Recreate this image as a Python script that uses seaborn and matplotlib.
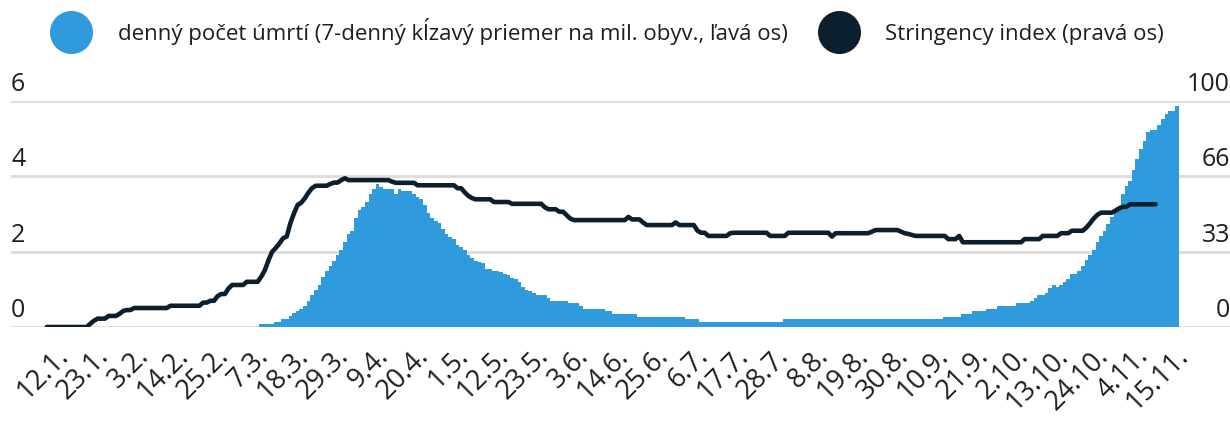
import pandas as pd
import matplotlib
matplotlib.use("Agg")
import matplotlib.pyplot as plt
import seaborn as sns
from matplotlib.lines import Line2D
from matplotlib.transforms import ScaledTranslation

# ---------------------------
# Data, one value per day from 9.1.2020
# ---------------------------
start_date = "2020-01-09"
deaths_start_date = "2020-03-08"

# daily deaths, 7-day rolling mean per million (left axis), from 8.3.
deaths = [
    0.07, 0.07, 0.07, 0.07, 0.14, 0.14, 0.22, 0.22,
    0.28, 0.36, 0.43, 0.47, 0.57, 0.69, 0.85, 0.98, 1.11, 1.33,
    1.49, 1.62, 1.75, 1.91, 2.04, 2.26, 2.46, 2.55, 2.89, 3.11,
    3.18, 3.31, 3.53, 3.66, 3.80, 3.73, 3.66, 3.66, 3.66, 3.52,
    3.66, 3.60, 3.60, 3.60, 3.52, 3.46, 3.39, 3.24, 3.02, 2.89,
    2.81, 2.77, 2.60, 2.47, 2.38, 2.33, 2.18, 2.12, 2.04, 1.91,
    1.82, 1.75, 1.73, 1.71, 1.55, 1.53, 1.49, 1.49, 1.45, 1.41,
    1.38, 1.30, 1.27, 1.19, 1.07, 0.98, 0.96, 0.91, 0.85, 0.85,
    0.85, 0.77, 0.69, 0.69, 0.69, 0.69, 0.69, 0.64, 0.64, 0.64,
    0.57, 0.48, 0.48, 0.48, 0.48, 0.48, 0.48, 0.42, 0.42, 0.35,
    0.35, 0.35, 0.35, 0.35, 0.35, 0.35, 0.27, 0.27, 0.27, 0.27,
    0.27, 0.27, 0.27, 0.27, 0.27, 0.27, 0.27, 0.27, 0.27, 0.21,
    0.21, 0.21, 0.21, 0.13, 0.13, 0.13, 0.13, 0.13, 0.13, 0.13,
    0.13, 0.13, 0.13, 0.13, 0.13, 0.13, 0.13, 0.13, 0.13, 0.13,
    0.13, 0.13, 0.13, 0.13, 0.13, 0.13, 0.21, 0.21, 0.21, 0.21,
    0.21, 0.21, 0.21, 0.21, 0.21, 0.21, 0.21, 0.21, 0.21, 0.21,
    0.21, 0.21, 0.21, 0.21, 0.21, 0.21, 0.21, 0.21, 0.21, 0.21,
    0.21, 0.21, 0.21, 0.21, 0.21, 0.21, 0.21, 0.21, 0.21, 0.21,
    0.21, 0.21, 0.21, 0.21, 0.21, 0.21, 0.21, 0.21, 0.21, 0.21,
    0.27, 0.27, 0.27, 0.27, 0.27, 0.35, 0.35, 0.35, 0.43, 0.43,
    0.43, 0.43, 0.48, 0.48, 0.48, 0.56, 0.56, 0.56, 0.56, 0.56,
    0.65, 0.65, 0.65, 0.65, 0.70, 0.76, 0.85, 0.85, 0.91, 1.04,
    1.11, 1.05, 1.11, 1.20, 1.28, 1.40, 1.40, 1.49, 1.63, 1.78,
    1.91, 2.04, 2.26, 2.42, 2.56, 2.73, 2.91, 3.11, 3.19, 3.53,
    3.74, 3.88, 4.17, 4.46, 4.72, 4.94, 5.17, 5.23, 5.23, 5.36,
    5.52, 5.65, 5.73, 5.73, 5.87,
]

# stringency index (right axis), from 9.1.
stringency = [
    0, 0, 0, 0, 0, 0, 0, 0, 0, 0, 0, 0,
    1.5, 2.8, 3.7, 3.7, 3.7, 4.9, 4.9, 4.9, 5.8, 7.1, 7.5, 7.5,
    8.4, 8.4, 8.4, 8.4, 8.4, 8.4, 8.4, 8.4, 8.4, 8.4,
    9.4, 9.4, 9.4, 9.4, 9.4, 9.4, 9.4, 9.4, 9.4,
    10.8, 10.8, 11.6, 11.6, 13.7, 14.6, 14.6, 17.1, 18.6, 18.6, 18.6, 18.6,
    20.0, 20.0, 20.0, 20.0,
    22.3, 25.2, 29.6, 33.3, 35.0, 37.0, 39.3, 40.0, 45.9, 50.3,
    54.0, 55.0, 57.0, 59.5, 61.5, 62.5, 62.5, 62.5, 62.5, 63.3,
    63.9, 63.9, 65.0, 65.8, 65.0,
    65.0, 65.0, 65.0, 65.0, 65.0, 65.0, 65.0, 65.0, 65.0, 65.0, 65.0,
    64.3, 63.8, 63.8, 63.8, 63.8, 63.8, 63.8,
    62.7, 62.7, 62.7, 62.7, 62.7, 62.7, 62.7, 62.7, 62.7, 62.7, 62.7,
    61.4, 61.4, 59.5, 58.0, 57.0,
    56.5, 56.5, 56.5, 56.5, 56.5, 55.3, 55.3, 55.3, 55.3, 55.3,
    54.5, 54.5, 54.5, 54.5, 54.5, 54.5, 54.5, 54.5, 54.5,
    53.0, 52.1, 52.1, 52.1, 51.0, 51.0, 49.5, 48.0,
    47.3, 47.3, 47.3, 47.3, 47.3, 47.3, 47.3, 47.3, 47.3, 47.3,
    47.3, 47.3, 47.3, 47.3, 47.3,
    48.7, 47.6, 47.6, 47.6, 46.3,
    45.1, 45.1, 45.1, 45.1, 45.1, 45.1, 45.1, 45.1, 46.3,
    45.1, 45.1, 45.1, 45.1, 45.1,
    42.6, 41.7, 41.7, 40.3, 40.3, 40.3, 40.3, 40.3, 40.3, 41.5,
    41.7, 41.7, 41.7, 41.7, 41.7, 41.7, 41.7, 41.7, 41.7, 41.7,
    40.3, 40.3, 40.3, 40.3, 40.3,
    41.7, 41.7, 41.7, 41.7, 41.7, 41.7, 41.7, 41.7, 41.7, 41.7, 41.7, 41.7,
    40.0,
    41.5, 41.5, 41.5, 41.5, 41.5, 41.5, 41.5, 41.5, 41.5, 41.5,
    42.2, 42.9, 42.9, 42.9, 42.9, 42.9, 42.9, 42.9,
    42.2, 41.5, 41.2, 40.7,
    40.3, 40.3, 40.3, 40.3, 40.3, 40.3, 40.3, 40.3, 40.3,
    38.9, 38.9, 38.9, 40.3,
    37.5, 37.5, 37.5, 37.5, 37.5, 37.5, 37.5, 37.5, 37.5, 37.5,
    37.5, 37.5, 37.5, 37.5, 37.5, 37.5, 37.5,
    38.9, 38.9, 38.9, 38.9, 38.9, 40.3, 40.3, 40.3, 40.3, 40.3,
    41.5, 41.5, 41.5, 42.6, 42.6, 42.6, 42.6,
    44.0, 45.9, 48.0, 49.6, 50.6, 50.6, 50.6, 50.6, 51.5, 52.5,
    53.2, 53.2, 54.3, 54.3, 54.3, 54.3, 54.3, 54.3, 54.3, 54.3,
]

tick_labels = [
    "12.1.", "23.1.", "3.2.", "14.2.", "25.2.", "7.3.", "18.3.", "29.3.",
    "9.4.", "20.4.", "1.5.", "12.5.", "23.5.", "3.6.", "14.6.", "25.6.",
    "6.7.", "17.7.", "28.7.", "8.8.", "19.8.", "30.8.", "10.9.", "21.9.",
    "2.10.", "13.10.", "24.10.", "4.11.", "15.11.",
]

legend_labels = [
    "denný počet úmrtí (7-denný kĺzavý priemer na mil. obyv., ľavá os)",
    "Stringency index (pravá os)",
]

blue = "#2f9adc"
navy = "#0c1f2e"
grid_col = "#dedede"
text_col = "#1e1e1e"

# ---------------------------
# Frames
# ---------------------------
t0 = pd.Timestamp(start_date)
offset = (pd.Timestamp(deaths_start_date) - t0).days
df_d = pd.DataFrame({"day": range(offset, offset + len(deaths)), "deaths": deaths})
df_s = pd.DataFrame({"day": range(len(stringency)), "stringency": stringency})

n_days = offset + len(deaths)
all_dates = pd.date_range(start_date, periods=n_days)
day_labels = [f"{d.day}.{d.month}." for d in all_dates]
tick_pos = [day_labels.index(t) for t in tick_labels]

# ---------------------------
# Plot
# ---------------------------
sns.set_theme(style="white")
plt.rcParams["font.family"] = ["Open Sans", "DejaVu Sans"]

fig = plt.figure(figsize=(12.3, 4.21), dpi=100)
ax = fig.add_axes([11 / 1230, 94 / 421, 1219 / 1230, 226 / 421])

sns.barplot(data=df_d, x="day", y="deaths", native_scale=True, width=1.0,
            color=blue, saturation=1, linewidth=0, errorbar=None, ax=ax)

ax.set_xlim(-9.85, 325.5)
ax.set_ylim(0, 6)
ax.set_yticks([0, 2, 4, 6])
ax.yaxis.grid(True, color=grid_col, linewidth=2.2)
ax.xaxis.grid(False)
ax.set_axisbelow(True)
ax.set_xlabel("")
ax.set_ylabel("")
for s in ax.spines.values():
    s.set_visible(False)

# y labels sit on top of their gridlines
lift = ScaledTranslation(0, 4 / 100, fig.dpi_scale_trans)
ax.tick_params(axis="y", length=0, pad=0, labelsize=18, labelcolor=text_col)
for lab in ax.get_yticklabels():
    lab.set_ha("left")
    lab.set_va("bottom")
    lab.set_transform(lab.get_transform() + lift)

ax.set_xticks(tick_pos)
ax.set_xticklabels(tick_labels)
ax.tick_params(axis="x", length=0, pad=18, labelsize=19.5, labelcolor=text_col)
shift = ScaledTranslation(7 / 100, 0, fig.dpi_scale_trans)
for lab in ax.get_xticklabels():
    lab.set_rotation(45)
    lab.set_ha("right")
    lab.set_va("center")
    lab.set_rotation_mode("anchor")
    lab.set_transform(lab.get_transform() + shift)

ax2 = ax.twinx()
sns.lineplot(data=df_s, x="day", y="stringency", color=navy, linewidth=3.3,
             ax=ax2)
ax2.set_ylim(0, 100)
ax2.set_yticks([0, 100 / 3, 200 / 3, 100])
ax2.set_yticklabels(["0", "33", "66", "100"])
ax2.tick_params(axis="y", length=0, pad=0, labelsize=18, labelcolor=text_col)
for lab in ax2.get_yticklabels():
    lab.set_ha("right")
    lab.set_va("bottom")
    lab.set_transform(lab.get_transform() + lift)
ax2.set_ylabel("")
ax2.grid(False)
for s in ax2.spines.values():
    s.set_visible(False)

handles = [
    Line2D([], [], marker="o", linestyle="", markersize=31,
           markerfacecolor=blue, markeredgewidth=0),
    Line2D([], [], marker="o", linestyle="", markersize=31,
           markerfacecolor=navy, markeredgewidth=0),
]
fig.legend(handles, legend_labels, loc="center", ncol=2, frameon=False,
           bbox_to_anchor=(0.493, 0.925), fontsize=16, labelcolor=text_col,
           handlelength=2.0, handletextpad=1.1, columnspacing=1.3)

fig.savefig("out.png", dpi=100)
